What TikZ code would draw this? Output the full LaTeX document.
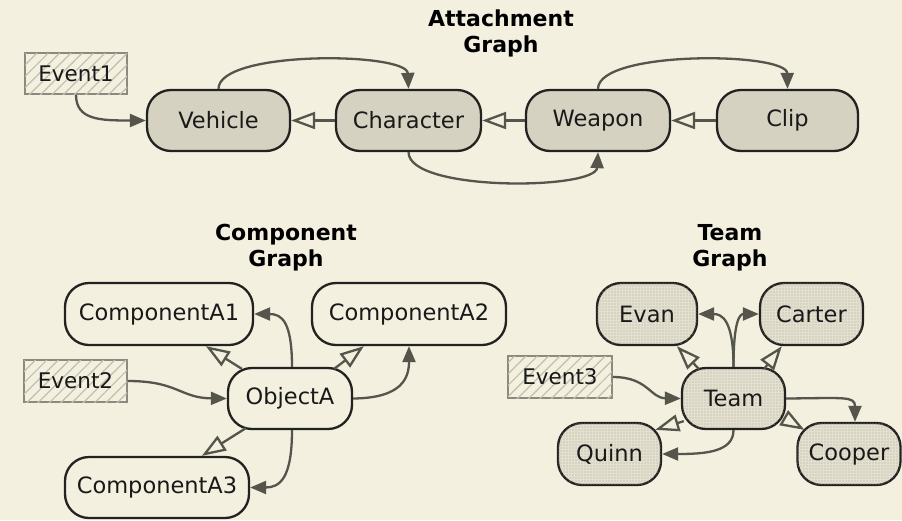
\documentclass[tikz,border=0pt]{standalone}
\usepackage{fontspec}
\setmainfont{DejaVu Sans}
\usetikzlibrary{arrows.meta,patterns.meta,calc}
\definecolor{bgc}{HTML}{F3F0E0}
\definecolor{attfill}{HTML}{D6D2C2}
\definecolor{teamfill}{HTML}{E4E0D0}
\definecolor{dotc}{HTML}{ADA999}
\definecolor{hatchc}{HTML}{C2BEAC}
\definecolor{evborder}{HTML}{8C8A80}
\definecolor{linec}{HTML}{55554C}
\definecolor{borderc}{HTML}{222220}
\tikzset{
  base/.style={rounded corners=24pt, draw=borderc, line width=2.3pt, inner sep=0pt,
    font=\fontsize{22.5}{26}\selectfont, text=black!90},
  attnode/.style={base, fill=attfill},
  compnode/.style={base, fill=bgc},
  teamnode/.style={base, fill=teamfill, postaction={pattern={Dots[distance=3pt,radius=0.6pt]}, pattern color=dotc}},
  evnode/.style={draw=evborder, line width=1.5pt, inner sep=0pt, fill=bgc,
    postaction={pattern={Lines[angle=45,distance=8pt,line width=1.2pt]}, pattern color=hatchc},
    font=\fontsize{21.5}{25}\selectfont, text=black!90},
  title/.style={font=\bfseries\fontsize{22}{26}\selectfont, align=center, text=black},
  inh/.style={draw=linec, line width=2.3pt, -{Triangle[open, length=24pt, width=17pt, fill=bgc]}},
  flow/.style={draw=linec, line width=2.3pt, -{Triangle[length=16pt, width=13pt]}},
}
\begin{document}
\begin{tikzpicture}[x=1pt,y=-1pt]
\useasboundingbox[fill=bgc] (0,0) rectangle (902,520);

% Titles
\node[title] (t1) at (501,33) {Attachment\\Graph};
\node[title] (t2) at (286,248) {Component\\Graph};
\node[title] (t3) at (730,248) {Team\\Graph};

% Attachment graph
\node[evnode, minimum width=102pt, minimum height=41pt] (Event1) at (76,73.5) {Event1};
\node[attnode, minimum width=143pt, minimum height=61pt] (Vehicle) at (218.5,120.5) {Vehicle};
\node[attnode, minimum width=145pt, minimum height=61pt] (Character) at (408.5,120.5) {Character};
\node[attnode, minimum width=144pt, minimum height=61pt] (Weapon) at (598,120.5) {Weapon};
\node[attnode, minimum width=141pt, minimum height=61pt] (Clip) at (787.5,120.5) {Clip};

% Component graph
\node[compnode, minimum width=188pt, minimum height=62pt] (A1) at (159,314) {ComponentA1};
\node[compnode, minimum width=194pt, minimum height=62pt] (A2) at (409,314) {ComponentA2};
\node[evnode, minimum width=103pt, minimum height=42pt] (Event2) at (75.5,381) {Event2};
\node[compnode, minimum width=124pt, minimum height=61pt] (ObjectA) at (290,398.5) {ObjectA};
\node[compnode, minimum width=184pt, minimum height=61pt] (A3) at (157,487.5) {ComponentA3};

% Team graph
\node[teamnode, minimum width=100pt, minimum height=62pt] (Evan) at (647,314) {Evan};
\node[teamnode, minimum width=103pt, minimum height=62pt] (Carter) at (811.5,314) {Carter};
\node[evnode, minimum width=104pt, minimum height=42pt] (Event3) at (560,377) {Event3};
\node[teamnode, minimum width=103pt, minimum height=61pt] (Team) at (733.5,398.5) {Team};
\node[teamnode, minimum width=103pt, minimum height=62pt] (Quinn) at (609.5,454) {Quinn};
\node[teamnode, minimum width=103pt, minimum height=62pt] (Cooper) at (849,454) {Cooper};

% Attachment connectors
\draw[inh] (Character.west) -- (Vehicle.east);
\draw[inh] (Weapon.west) -- (Character.east);
\draw[inh] (Clip.west) -- (Weapon.east);
\draw[flow] (Event1.south) .. controls (76,120) and (100,120.5) .. (Vehicle.west);
\draw[flow] (Vehicle.north) .. controls (218.5,50) and (407,52) .. (Character.north);
\draw[flow] (Weapon.north) .. controls (598,50) and (787,52) .. (Clip.north);
\draw[flow] (Character.south) .. controls (408.5,192) and (596,190) .. (Weapon.south);

% Component connectors
\draw[inh] ($(ObjectA.north west)+(15,2)$) -- ($(A1.south west)+(142,0)$);
\draw[inh] ($(ObjectA.north east)+(-19,2)$) -- ($(A2.south west)+(53,0)$);
\draw[inh] ($(ObjectA.south west)+(19,-2)$) -- ($(A3.north west)+(138,0)$);
\draw[flow] ($(ObjectA.north)+(2,0)$) .. controls (292,322) and (282,314) .. (A1.east);
\draw[flow] (ObjectA.east) .. controls (402,398) and (409,378) .. (A2.south);
\draw[flow] ($(ObjectA.south)+(2,0)$) .. controls (292,478) and (280,487.5) .. (A3.east);
\draw[flow] (Event2.east) .. controls (178,381) and (180,398) .. (ObjectA.west);

% Team connectors
\draw[inh] ($(Team.north west)+(18,2)$) -- ($(Evan.south west)+(81,0)$);
\draw[inh] ($(Team.north east)+(-22,2)$) -- ($(Carter.south west)+(23,0)$);
\draw[inh] ($(Team.south west)+(3,-9)$) -- ($(Quinn.north east)+(-7,8)$);
\draw[inh] ($(Team.south east)+(0,-11)$) -- ($(Cooper.north west)+(8,8)$);
\draw[flow] (Team.north) .. controls (733.5,320) and (722,314) .. (Evan.east);
\draw[flow] (Team.north) .. controls (733.5,320) and (740,314) .. (Carter.west);
\draw[flow] (Team.east) .. controls (845,398) and (855,396) .. ($(Cooper.north)+(6,0)$);
\draw[flow] (Team.south) .. controls (733.5,452) and (705,454) .. (Quinn.east);
\draw[flow] (Event3.east) .. controls (648,377) and (650,398) .. (Team.west);
\end{tikzpicture}
\end{document}
